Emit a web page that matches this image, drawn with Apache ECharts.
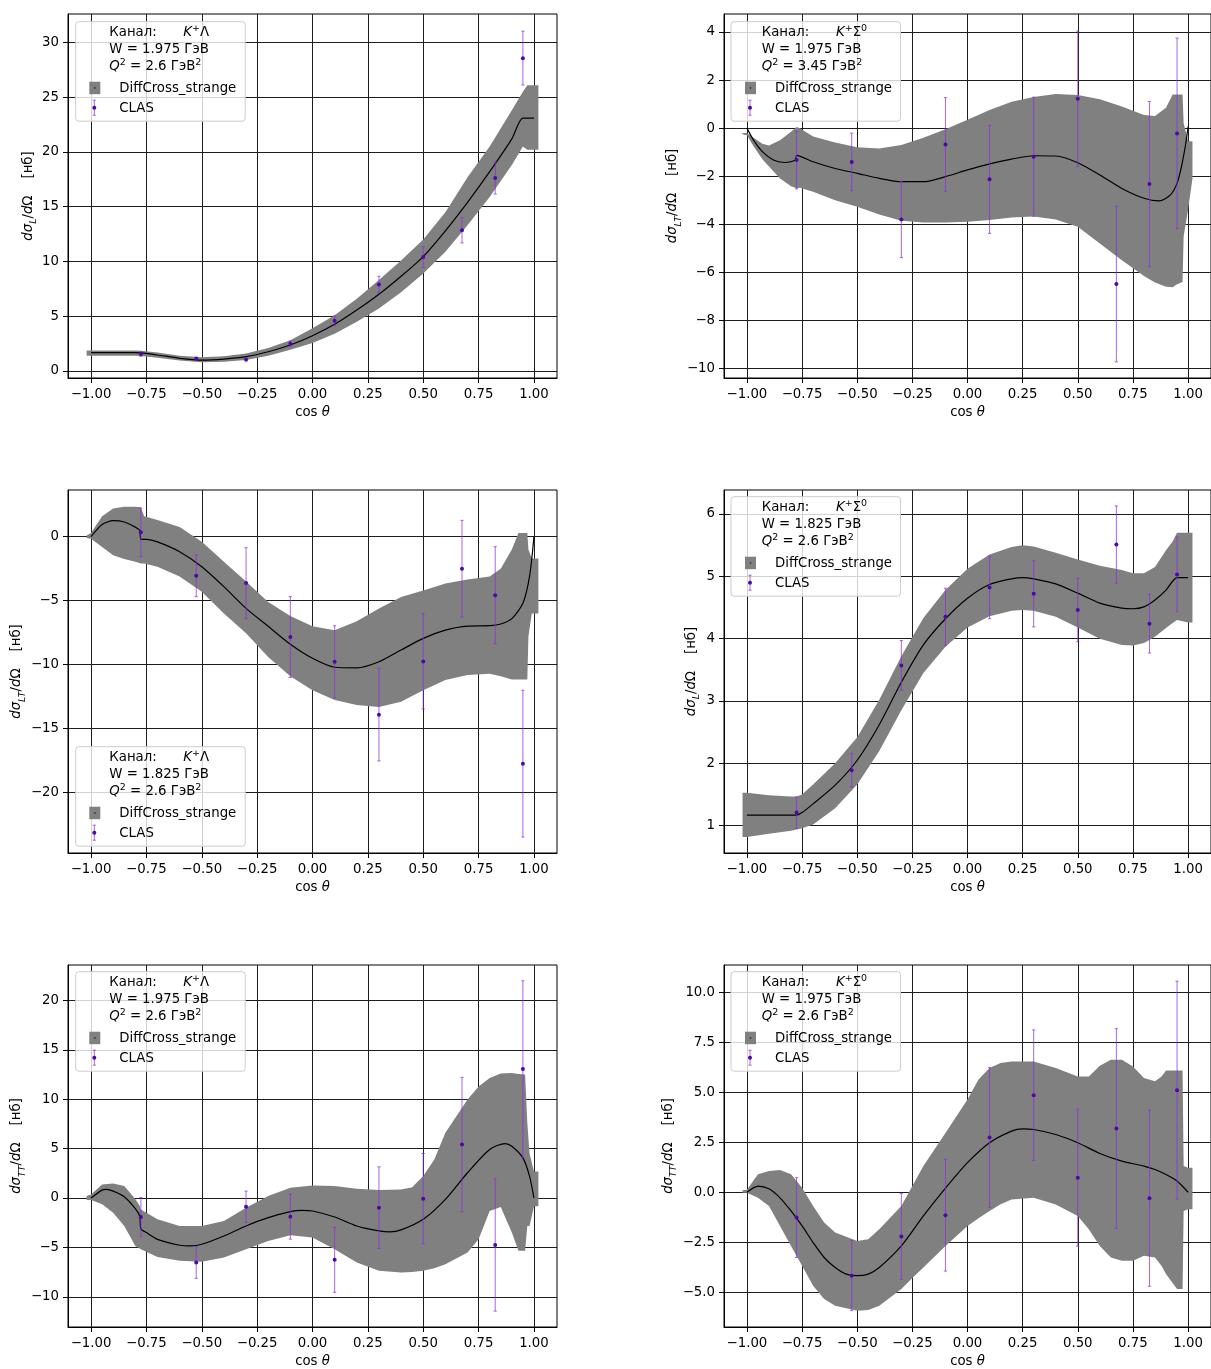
<!DOCTYPE html>
<html><head><meta charset="utf-8">
<script src="https://cdn.jsdelivr.net/npm/echarts@6/dist/echarts.min.js"></script>
<style>html,body{margin:0;padding:0;background:#fff}#c{width:1211px;height:1369px}</style>
</head><body><div id="c"></div>
<script>
// ---------- DATA ----------
const xTicks = [-1, -0.75, -0.5, -0.25, 0, 0.25, 0.5, 0.75, 1];
const yTicks1 = [0, 5, 10, 15, 20, 25, 30];
const yTicks2 = [-10, -8, -6, -4, -2, 0, 2, 4];
const yTicks3 = [-20, -15, -10, -5, 0];
const yTicks4 = [1, 2, 3, 4, 5, 6];
const yTicks5 = [-10, -5, 0, 5, 10, 15, 20];
const yTicks6 = [-5, -2.5, 0, 2.5, 5, 7.5, 10];

const channels = ['K⁺Λ', 'K⁺Σ⁰', 'K⁺Λ', 'K⁺Σ⁰', 'K⁺Λ', 'K⁺Σ⁰'];
const wValues = ['1.975', '1.975', '1.825', '1.825', '1.975', '1.975'];
const q2Values = ['2.6', '3.45', '2.6', '2.6', '2.6', '2.6'];
const sigmaSub = ['L', 'LT', 'LT', 'L', 'TT', 'TT'];
const legendModel = 'DiffCross_strange';
const legendData = 'CLAS';

const clasX = [-0.775, -0.525, -0.3, -0.1, 0.1, 0.3, 0.5, 0.675, 0.825, 0.95];

// panel 1
const line1 = [[-1,1.67],[-0.9,1.67],[-0.8,1.67],[-0.775,1.66],[-0.7,1.46],[-0.6,1.16],[-0.5,1.0],[-0.4,1.09],[-0.3,1.31],[-0.2,1.76],[-0.1,2.37],[0,3.22],[0.1,4.26],[0.2,5.56],[0.3,7.0],[0.4,8.65],[0.5,10.45],[0.6,12.8],[0.7,15.4],[0.8,18.2],[0.9,21.2],[0.95,23.1],[1.0,23.1]];
const band1 = [[-1.02,1.4,1.87],[-1.0,1.4,1.87],[-0.9,1.4,1.87],[-0.8,1.4,1.87],[-0.775,1.38,1.85],[-0.7,1.2,1.7],[-0.6,0.95,1.4],[-0.5,0.8,1.25],[-0.4,0.85,1.35],[-0.3,1.0,1.6],[-0.2,1.4,2.1],[-0.1,1.95,2.8],[0,2.55,3.9],[0.1,3.4,5.1],[0.2,4.5,6.6],[0.3,5.7,8.3],[0.4,7.2,10.1],[0.5,8.9,12.0],[0.6,10.9,14.5],[0.7,13.3,17.7],[0.8,15.9,20.5],[0.9,18.8,23.8],[0.95,20.5,25.5],[0.97,20.2,26.1],[1.0,20.2,26.1],[1.02,20.2,26.1]];
const clas1 = [1.55, 1.12, 1.06, 2.49, 4.59, 7.90, 10.4, 12.86, 17.63, 28.57];
const err1 = [0.2, 0.15, 0.15, 0.25, 0.45, 0.75, 0.95, 1.17, 1.47, 2.46];

// panel 2
const line2 = [[-1,0.0],[-0.97,-0.5],[-0.93,-0.98],[-0.88,-1.33],[-0.83,-1.43],[-0.78,-1.33],[-0.775,-1.13],[-0.7,-1.40],[-0.6,-1.68],[-0.5,-1.88],[-0.4,-2.09],[-0.3,-2.23],[-0.2,-2.23],[-0.1,-2.02],[0,-1.74],[0.1,-1.49],[0.2,-1.29],[0.3,-1.15],[0.4,-1.16],[0.5,-1.44],[0.6,-1.95],[0.7,-2.51],[0.8,-2.92],[0.87,-3.03],[0.92,-2.78],[0.95,-2.3],[0.97,-1.6],[0.99,-0.62],[1.0,0.06]];
const band2 = [[-1.02,-0.25,-0.2],[-1.0,-0.3,-0.2],[-0.97,-0.75,-0.4],[-0.93,-1.3,-0.65],[-0.9,-1.6,-0.72],[-0.85,-2.1,-0.5],[-0.8,-2.42,-0.15],[-0.775,-2.5,0.05],[-0.76,-2.48,0.0],[-0.7,-2.65,-0.35],[-0.6,-3.0,-0.6],[-0.5,-3.27,-0.8],[-0.4,-3.6,-0.85],[-0.3,-3.85,-0.7],[-0.2,-3.93,-0.4],[-0.1,-3.93,-0.05],[0,-3.9,0.35],[0.1,-3.82,0.75],[0.2,-3.72,1.1],[0.3,-3.68,1.3],[0.4,-3.8,1.42],[0.5,-4.1,1.38],[0.6,-4.8,1.2],[0.7,-5.5,0.9],[0.8,-6.15,0.55],[0.85,-6.43,0.5],[0.9,-6.6,0.85],[0.93,-6.62,1.4],[0.95,-6.5,1.4],[0.975,-6.4,1.4],[0.98,-4.5,0.2],[1.0,-3.4,-0.55],[1.02,-2.1,-0.55]];
const clas2 = [-1.33, -1.41, -3.80, -0.68, -2.13, -1.19, 1.22, -6.49, -2.33, -0.22];
const err2 = [1.2, 1.2, 1.59, 1.95, 2.25, 2.48, 2.82, 3.24, 3.44, 3.97];

// panel 3
const line3 = [[-1,0],[-0.95,0.95],[-0.9,1.25],[-0.85,1.15],[-0.8,0.75],[-0.78,0.5],[-0.775,-0.2],[-0.75,-0.2],[-0.7,-0.4],[-0.6,-1.17],[-0.5,-2.34],[-0.4,-3.9],[-0.3,-5.6],[-0.2,-7.0],[-0.1,-8.4],[0,-9.5],[0.1,-10.2],[0.2,-10.25],[0.3,-9.77],[0.4,-8.85],[0.5,-7.94],[0.6,-7.3],[0.7,-6.98],[0.8,-6.95],[0.85,-6.82],[0.9,-6.4],[0.95,-5.2],[0.98,-3.1],[1.0,0]];
const band3 = [[-1.02,-0.1,0.1],[-1.0,-0.15,0.3],[-0.95,-0.8,1.6],[-0.9,-1.45,2.2],[-0.85,-1.75,2.35],[-0.8,-1.95,2.35],[-0.775,-2.1,2.3],[-0.76,-2.1,1.6],[-0.7,-2.35,1.3],[-0.6,-3.1,0.75],[-0.5,-4.3,-0.4],[-0.4,-6.0,-1.95],[-0.3,-7.55,-3.5],[-0.2,-9.4,-5.1],[-0.1,-10.9,-6.2],[0,-12.0,-7.0],[0.1,-12.75,-7.3],[0.2,-13.15,-6.6],[0.3,-13.3,-5.6],[0.4,-12.9,-4.7],[0.5,-12.0,-4.2],[0.6,-11.2,-3.65],[0.7,-10.8,-3.35],[0.8,-10.7,-3.1],[0.85,-10.9,-2.5],[0.9,-11.15,-1.0],[0.93,-11.15,0.3],[0.97,-11.15,0.3],[0.975,-7.8,-1.0],[0.99,-6.0,-1.7],[1.02,-6.0,-1.7]];
const clas3 = [0.34, -3.05, -3.62, -7.84, -9.77, -13.9, -9.74, -2.5, -4.58, -17.73];
const err3 = [1.9, 1.63, 2.76, 3.16, 2.81, 3.62, 3.72, 3.78, 3.8, 5.73];

// panel 4
const line4 = [[-1,1.17],[-0.9,1.17],[-0.8,1.17],[-0.775,1.17],[-0.75,1.21],[-0.7,1.35],[-0.6,1.65],[-0.5,2.05],[-0.4,2.62],[-0.3,3.3],[-0.2,3.9],[-0.1,4.32],[0,4.65],[0.1,4.87],[0.2,4.96],[0.25,4.98],[0.3,4.96],[0.4,4.88],[0.5,4.73],[0.6,4.57],[0.7,4.49],[0.75,4.48],[0.8,4.51],[0.85,4.62],[0.9,4.78],[0.95,4.98],[1.0,4.98]];
const band4 = [[-1.02,0.82,1.53],[-1.0,0.82,1.53],[-0.9,0.87,1.49],[-0.8,0.92,1.47],[-0.775,0.94,1.47],[-0.75,0.96,1.5],[-0.7,1.02,1.66],[-0.6,1.28,2.0],[-0.5,1.66,2.42],[-0.4,2.2,3.02],[-0.3,2.85,3.72],[-0.2,3.45,4.33],[-0.1,3.87,4.78],[0,4.18,5.12],[0.1,4.36,5.35],[0.2,4.45,5.47],[0.25,4.46,5.5],[0.3,4.45,5.48],[0.4,4.35,5.38],[0.5,4.18,5.27],[0.6,4.0,5.17],[0.7,3.9,5.1],[0.75,3.89,5.05],[0.8,3.93,5.05],[0.85,4.03,5.15],[0.9,4.17,5.42],[0.93,4.25,5.56],[0.95,4.3,5.7],[1.0,4.26,5.7],[1.02,4.26,5.7]];
const clas4 = [1.21, 1.89, 3.57, 4.35, 4.82, 4.72, 4.46, 5.51, 4.24, 5.03];
const err4 = [0.25, 0.27, 0.4, 0.46, 0.5, 0.53, 0.51, 0.62, 0.47, 0.6];

// panel 5
const line5 = [[-1,0],[-0.95,0.8],[-0.93,0.87],[-0.9,0.7],[-0.85,0.13],[-0.8,-1.08],[-0.78,-1.85],[-0.775,-3.1],[-0.75,-3.5],[-0.7,-4.18],[-0.6,-4.78],[-0.55,-4.85],[-0.5,-4.68],[-0.4,-3.84],[-0.3,-2.83],[-0.2,-1.99],[-0.1,-1.38],[-0.05,-1.25],[0,-1.31],[0.1,-1.92],[0.2,-2.83],[0.3,-3.33],[0.35,-3.43],[0.4,-3.23],[0.5,-2.15],[0.6,-0.13],[0.7,2.56],[0.8,4.92],[0.87,5.52],[0.9,5.25],[0.95,4.07],[0.98,2.22],[1.0,0]];
const band5 = [[-1.02,-0.2,0.2],[-1.0,-0.2,0.37],[-0.95,-0.64,1.38],[-0.9,-1.48,1.48],[-0.85,-2.83,1.21],[-0.8,-4.85,-0.1],[-0.78,-5.1,-0.8],[-0.775,-5.19,-1.15],[-0.7,-5.96,-2.15],[-0.6,-6.36,-2.83],[-0.5,-6.46,-2.83],[-0.4,-6.03,-2.32],[-0.3,-5.19,-0.98],[-0.2,-4.34,0.2],[-0.1,-3.77,1.04],[0,-4.0,1.28],[0.1,-5.19,1.21],[0.2,-6.53,0.94],[0.3,-7.37,0.81],[0.4,-7.54,0.87],[0.45,-7.5,1.1],[0.5,-7.37,2.22],[0.55,-7.1,3.9],[0.6,-6.7,6.6],[0.7,-5.52,9.97],[0.75,-4.18,11.3],[0.8,-1.31,12.15],[0.85,-0.9,12.6],[0.9,-3.5,12.66],[0.93,-5.35,12.55],[0.96,-5.35,12.5],[0.97,-2.83,7.6],[0.98,-2.83,4.5],[1.0,-0.84,2.7],[1.02,-0.84,2.7]];
const clas5 = [-1.92, -6.53, -0.88, -1.89, -6.26, -0.98, -0.07, 5.42, -4.75, 13.06];
const err5 = [1.97, 1.6, 1.58, 2.27, 3.28, 4.14, 4.58, 6.8, 6.7, 8.94];

// panel 6
const line6 = [[-1,0],[-0.95,0.31],[-0.9,0.17],[-0.85,-0.28],[-0.8,-0.94],[-0.75,-1.69],[-0.7,-2.52],[-0.65,-3.27],[-0.6,-3.77],[-0.55,-4.1],[-0.5,-4.18],[-0.45,-4.1],[-0.4,-3.77],[-0.3,-2.69],[-0.2,-1.19],[-0.1,0.2],[0,1.48],[0.1,2.48],[0.2,3.06],[0.25,3.17],[0.3,3.14],[0.4,2.89],[0.5,2.48],[0.6,1.94],[0.7,1.56],[0.8,1.31],[0.85,1.14],[0.9,0.89],[0.95,0.56],[1.0,0]];
const band6 = [[-1.02,-0.03,0.1],[-1.0,-0.03,0.13],[-0.95,-0.28,0.9],[-0.9,-0.69,1.06],[-0.85,-1.69,1.11],[-0.8,-2.69,0.9],[-0.75,-3.68,0.23],[-0.7,-4.68,-0.69],[-0.65,-5.35,-1.52],[-0.6,-5.68,-2.02],[-0.5,-5.93,-2.44],[-0.45,-5.9,-2.35],[-0.4,-5.68,-1.85],[-0.3,-4.85,-0.69],[-0.25,-4.3,0.31],[-0.2,-3.77,1.31],[-0.1,-2.69,2.97],[0,-1.69,4.64],[0.05,-1.3,5.64],[0.1,-0.94,6.22],[0.15,-0.6,6.47],[0.2,-0.36,6.55],[0.3,-0.28,6.55],[0.4,-0.61,6.22],[0.5,-1.19,5.8],[0.55,-1.85,5.8],[0.6,-2.69,6.34],[0.65,-3.27,6.64],[0.7,-3.43,6.64],[0.75,-3.43,6.3],[0.8,-3.18,5.72],[0.85,-3.27,5.56],[0.88,-3.7,5.8],[0.9,-4.1,6.09],[0.95,-4.85,6.09],[0.975,-4.85,6.09],[0.98,-0.94,1.31],[1.0,-0.85,1.23],[1.02,-0.85,1.23]];
const clas6 = [-1.27, -4.18, -2.22, -1.15, 2.74, 4.86, 0.73, 3.19, -0.3, 5.11];
const err6 = [2.0, 1.75, 2.15, 2.8, 3.5, 3.27, 3.43, 5.0, 4.41, 5.46];

// ---------- LAYOUT / STYLE ----------
const FONT = 'DejaVu Sans';
const FS = 13.3;
const GRID_COLOR = '#1e1e1e';
const BAND_COLOR = '#808080';
const BAR_COLOR = 'rgba(138,43,226,0.72)';
const DOT_COLOR = '#4b0aa0';
const PW = 489;

const panels = [
  {left:68,  top:14,  h:364, ymin:-0.64,  ymax:32.6,  yt:yTicks1, dec:0, gap:28, line:line1, band:band1, clas:clas1, err:err1, leg:[75.7,21.7], side:0},
  {left:724, top:14,  h:364, ymin:-10.40, ymax:4.75,  yt:yTicks2, dec:0, gap:39, line:line2, band:band2, clas:clas2, err:err2, leg:[731,21.7], side:1},
  {left:68,  top:490, h:363, ymin:-24.71, ymax:3.65,  yt:yTicks3, dec:0, gap:39, line:line3, band:band3, clas:clas3, err:err3, leg:[75.7,746.7], side:0},
  {left:724, top:490, h:363, ymin:0.562,  ymax:6.385, yt:yTicks4, dec:0, gap:22, line:line4, band:band4, clas:clas4, err:err4, leg:[731,496.7], side:1},
  {left:68,  top:965, h:363, ymin:-13.06, ymax:23.6,  yt:yTicks5, dec:0, gap:39, line:line5, band:band5, clas:clas5, err:err5, leg:[75.7,971.7], side:0},
  {left:724, top:965, h:363, ymin:-6.75,  ymax:11.38, yt:yTicks6, dec:1, gap:44, line:line6, band:band6, clas:clas6, err:err6, leg:[731,971.7], side:1}
];

function fmt(v, dec) {
  const s = Math.abs(v).toFixed(dec);
  return (v < 0 ? '\u2212' : '') + s;
}
// turn "K⁺Σ⁰" into rich-text tokens (italic K, raised superscripts)
function channelRich(ch) {
  const sup = {'⁺': '+', '⁰': '0'};
  let out = '{i|' + ch[0] + '}';
  for (const c of ch.slice(1)) out += sup[c] ? '{sup|' + sup[c] + '}' : '{n|' + c + '}';
  return out;
}

const baseText = {fontFamily: FONT, fontSize: FS, color: '#000'};
const LEG_RICH = {
  n: {fontFamily: FONT, fontSize: FS, fill: '#000', lineHeight: 18, verticalAlign: 'middle'},
  i: {fontFamily: FONT, fontSize: FS, fontStyle: 'italic', fill: '#000', lineHeight: 18, verticalAlign: 'middle'},
  sup: {fontFamily: FONT, fontSize: 9.5, fill: '#000', lineHeight: 9, verticalAlign: 'top'}
};

const grids = [], xAxes = [], yAxes = [], series = [], graphics = [];

panels.forEach((p, i) => {
  grids.push({left: p.left, top: p.top, width: PW, height: p.h, show: true,
    borderColor: '#000', borderWidth: 1, backgroundColor: 'transparent', containLabel: false});
  xAxes.push({
    gridIndex: i, type: 'value', min: -1.104, max: 1.104,
    axisLine: {show: true, onZero: false, lineStyle: {color: '#000', width: 1}},
    axisTick: {show: true, customValues: xTicks, length: 5, lineStyle: {color: '#000', width: 1}},
    axisLabel: {customValues: xTicks, formatter: v => fmt(v, 2), margin: 10, hideOverlap: false, ...baseText},
    splitLine: {show: true, lineStyle: {color: GRID_COLOR, width: 1}},
    name: '{n|cos }{i|θ}', nameLocation: 'middle', nameGap: 28,
    nameTextStyle: {...baseText, rich: {
      n: {fontFamily: FONT, fontSize: FS, color: '#000'},
      i: {fontFamily: FONT, fontSize: FS, fontStyle: 'italic', color: '#000'}
    }}
  });
  yAxes.push({
    gridIndex: i, type: 'value', min: p.ymin, max: p.ymax,
    axisLine: {show: true, onZero: false, lineStyle: {color: '#000', width: 1}},
    axisTick: {show: true, customValues: p.yt, length: 5, lineStyle: {color: '#000', width: 1}},
    axisLabel: {customValues: p.yt, formatter: v => fmt(v, p.dec), margin: 9, hideOverlap: false, ...baseText},
    splitLine: {show: true, lineStyle: {color: GRID_COLOR, width: 1}},
    name: '{i|dσ}{s|' + sigmaSub[i] + '}{n|/}{i|d}{n|Ω    [нб]}',
    nameLocation: 'middle', nameRotate: 90, nameGap: p.gap,
    nameTextStyle: {...baseText, rich: {
      i: {fontFamily: FONT, fontSize: FS, fontStyle: 'italic', color: '#000', lineHeight: 20, verticalAlign: 'middle'},
      n: {fontFamily: FONT, fontSize: FS, color: '#000', lineHeight: 20, verticalAlign: 'middle'},
      s: {fontFamily: FONT, fontSize: 9.5, fontStyle: 'italic', color: '#000', lineHeight: 11, verticalAlign: 'bottom'}
    }}
  });

  // uncertainty band
  series.push({
    type: 'custom', xAxisIndex: i, yAxisIndex: i, z: 1, silent: true,
    data: [[0, 0]],
    renderItem: (params, api) => {
      const top = p.band.map(r => api.coord([r[0], r[2]]));
      const bot = p.band.map(r => api.coord([r[0], r[1]])).reverse();
      return {type: 'polygon', shape: {points: top.concat(bot)}, style: {fill: BAND_COLOR, stroke: null}};
    }
  });
  // model curve
  series.push({
    type: 'line', xAxisIndex: i, yAxisIndex: i, z: 3, silent: true,
    data: p.line, showSymbol: false, smooth: 0.25,
    lineStyle: {color: '#000', width: 1.2}
  });
  // CLAS points with error bars
  series.push({
    type: 'custom', xAxisIndex: i, yAxisIndex: i, z: 4, silent: true,
    data: clasX.map((x, k) => [x, p.clas[k], p.err[k]]),
    encode: {x: 0, y: 1},
    renderItem: (params, api) => {
      const x = api.value(0), y = api.value(1), e = api.value(2);
      const c = api.coord([x, y]);
      const t = api.coord([x, y + e]);
      const b = api.coord([x, y - e]);
      const ls = {stroke: BAR_COLOR, lineWidth: 1};
      return {type: 'group', children: [
        {type: 'line', shape: {x1: c[0], y1: t[1], x2: c[0], y2: b[1]}, style: ls},
        {type: 'line', shape: {x1: c[0] - 1.6, y1: t[1], x2: c[0] + 1.6, y2: t[1]}, style: ls},
        {type: 'line', shape: {x1: c[0] - 1.6, y1: b[1], x2: c[0] + 1.6, y2: b[1]}, style: ls},
        {type: 'circle', shape: {cx: c[0], cy: c[1], r: 2}, style: {fill: DOT_COLOR}}
      ]};
    }
  });

  // legend box
  const lx = p.leg[0], ly = p.leg[1];
  const tx = p.side ? 30.7 : 33.6, kx = p.side ? 105 : 107.6;
  const hx = p.side ? 14 : 13.6, ex = p.side ? 19 : 18.6, dx = p.side ? 44 : 43.6;
  const txt = (x, y, text, rich) => ({type: 'text', x: x, y: y, z: 100,
    style: {text: text, fontFamily: FONT, fontSize: FS, fill: '#000', verticalAlign: 'middle', align: 'left',
      rich: rich || {}}});
  graphics.push({type: 'rect', z: 99, shape: {x: lx, y: ly, width: 169.5, height: 99.5, r: 3},
    style: {fill: 'rgba(255,255,255,0.8)', stroke: '#cccccc', lineWidth: 1}});
  graphics.push(txt(lx + tx, ly + 10.5, 'Канал:'));
  graphics.push(txt(lx + kx, ly + 10.5, channelRich(channels[i]), LEG_RICH));
  graphics.push(txt(lx + tx, ly + 27.5, 'W = ' + wValues[i] + ' ГэВ'));
  graphics.push(txt(lx + tx, ly + 45, '{i|Q}{sup|2}{n| = ' + q2Values[i] + ' ГэВ}{sup|2}', LEG_RICH));
  graphics.push({type: 'rect', z: 100, shape: {x: lx + hx, y: ly + 60, width: 11, height: 12.5},
    style: {fill: BAND_COLOR}});
  graphics.push({type: 'circle', z: 101, shape: {cx: lx + hx + 5.5, cy: ly + 66.2, r: 0.9},
    style: {fill: '#333'}});
  graphics.push(txt(lx + dx, ly + 66.5, legendModel));
  const ls = {stroke: BAR_COLOR, lineWidth: 1};
  graphics.push({type: 'line', z: 100, shape: {x1: lx + ex, y1: ly + 78.5, x2: lx + ex, y2: ly + 93.5}, style: ls});
  graphics.push({type: 'line', z: 100, shape: {x1: lx + ex - 1.6, y1: ly + 78.5, x2: lx + ex + 1.6, y2: ly + 78.5}, style: ls});
  graphics.push({type: 'line', z: 100, shape: {x1: lx + ex - 1.6, y1: ly + 93.5, x2: lx + ex + 1.6, y2: ly + 93.5}, style: ls});
  graphics.push({type: 'circle', z: 101, shape: {cx: lx + ex, cy: ly + 86, r: 2}, style: {fill: DOT_COLOR}});
  graphics.push(txt(lx + dx, ly + 86.5, legendData));
});

const chart = echarts.init(document.getElementById('c'), null, {renderer: 'canvas'});
chart.setOption({
  animation: false,
  backgroundColor: '#fff',
  textStyle: {fontFamily: FONT},
  grid: grids, xAxis: xAxes, yAxis: yAxes, series: series,
  graphic: {elements: graphics}
});
</script>
</body></html>
